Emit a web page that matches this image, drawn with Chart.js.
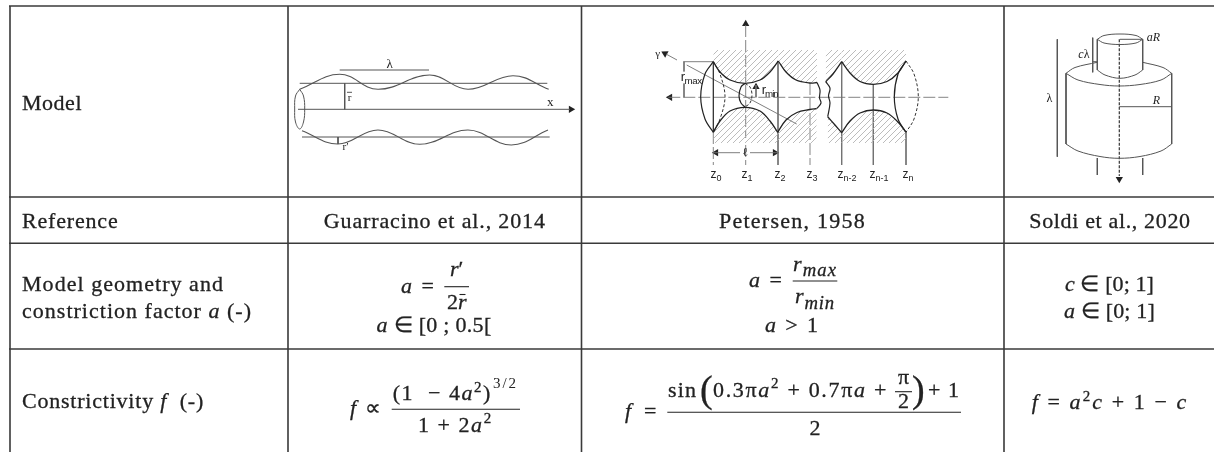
<!DOCTYPE html>
<html>
<head>
<meta charset="utf-8">
<style>
  html, body { margin: 0; background: #fff; }
  canvas { display: block; }
</style>
<script src="https://cdn.jsdelivr.net/npm/chart.js@4/dist/chart.umd.min.js"></script>
</head>
<body>
<canvas id="tabela" width="1214" height="452"></canvas>
<script>
// table text
const rowLabels = ["Model", "Reference", "Model geometry and", "constriction factor *a* (-)", "Constrictivity *f*  (-)"];
const references = ["Guarracino et al., 2014", "Petersen, 1958", "Soldi et al., 2020"];
const geometry1 = ["*a* =", "*r*′", "2*r*", "*a* ∈ [0 ; 0.5["];
const geometry2 = ["*a* =", "*r*_max_", "*r*_min_", "*a* > 1"];
const geometry3 = ["*c* ∈ [0; 1]", "*a* ∈ [0; 1]"];
const constrict1 = ["*f* ∝", "(1  − 4*a*^2^)", "3/2", "1 + 2*a*^2^"];
const constrict2 = ["*f* =", "sin", "(", "0.3π*a*^2^ + 0.7π*a* +", "π", "2", ")", "+ 1", "2"];
const constrict3 = ["*f* = *a*^2^*c* + 1 − *c*"];
const panel1Labels = ["λ", "r", "r′", "x"];
const panel2Labels = ["γ", "r~max~", "r~min~", "ℓ", "z~0~", "z~1~", "z~2~", "z~3~", "z~n-2~", "z~n-1~", "z~n~"];
const panel3Labels = ["*aR*", "*c*λ", "λ", "*R*"];

// table rules
const gridRows = [6, 197, 243.3, 349];
const gridCols = [10, 288, 581.5, 1004];

// panel 1, wavy tube
const waveTop = [[299.7, 89.3], [339.7, 74.3], [378, 89.3], [429.7, 75], [468, 89.3], [513, 75.7], [548.7, 89.3]];
const waveBottom = [[302, 130.7], [338, 144], [378, 130], [419.7, 144.3], [468, 130], [511.3, 145], [548, 130]];
const tubeEnd = [[299.7, 89.3], [295.5, 96], [294.7, 109], [295.5, 122], [299.7, 129], [303.5, 122], [304.7, 109], [303.5, 96], [299.7, 89.3]];
const panel1Lines = [
  [[299.7, 83.3], [547.3, 83.3]], [[302, 137], [549.7, 137]], [[298, 109.3], [570, 109.3]],
  [[339.7, 70], [429, 70]], [[344.7, 83.3], [344.7, 109.3]], [[338, 137], [338, 144]], [[347, 92.3], [352, 92.3]]
];

// panel 2, cusped pores
const arcsTop = [
  [[713.3, 61.7], [720, 72], [730, 80], [745, 83.3], [760, 80], [770, 72], [778.3, 61]],
  [[778.3, 61], [786, 72], [796, 80], [810, 83], [817, 82.5]],
  [[825.7, 81.7], [833, 74], [841.7, 61.7]],
  [[841.7, 61.7], [850, 73], [860, 81.5], [873.3, 84.3], [887, 81.5], [898, 73], [906, 61]]
];
const arcsBottom = [
  [[713.3, 132.3], [720, 121], [730, 111], [745, 107.3], [760, 111], [770, 121], [777.7, 132.3]],
  [[777.7, 132.3], [786, 120], [797, 112.5], [810, 109.5], [816.7, 108.5]],
  [[827.7, 116.7], [835, 125], [841.7, 132.7]],
  [[841.7, 132.7], [850, 121], [860, 113], [873.3, 110], [887, 113], [898, 122], [906, 132.3]]
];
const lensSolid = [
  [[713.3, 61.7], [705, 74], [700.7, 96.7], [705, 119], [713.3, 132.3]],
  [[906, 61], [898, 74], [894.3, 96.7], [898, 119], [906, 132.3]],
  [[745, 83.5], [741, 87], [739, 96], [741, 103], [745, 107]],
  [[817, 82.5], [820, 90], [819.5, 98], [821, 103], [817, 108.5]],
  [[825.7, 81.7], [830, 88], [828.5, 96], [830, 103], [827.7, 116.7]],
  [[713.3, 61.7], [713.3, 132.3]]
];
const lensDashed = [
  [[713.3, 61.7], [720, 74], [725, 96.7], [720, 119], [713.3, 132.3]],
  [[906, 61], [914, 74], [918.3, 96.7], [914, 119], [906, 132.3]],
  [[745, 83.5], [750, 87], [752, 95], [750, 103], [745, 107]]
];
const panel2Lines = [
  [[686.7, 65], [796.7, 124]], [[666, 54], [677, 60]],
  [[683.3, 61.7], [713.3, 61.7]], [[684, 61.7], [684, 71.5]], [[684, 83.5], [684, 97.3]], [[756, 85], [756, 97.3]],
  [[713.3, 152.7], [740, 152.7]], [[750, 152.7], [778, 152.7]],
  [[778, 61], [778, 165]], [[841.7, 61.7], [841.7, 165]], [[873.3, 84.3], [873.3, 165]], [[906, 132], [906, 165]]
];
const panel2Dashed = [
  [[668.3, 97.3], [948.3, 97.3]], [[745.7, 25], [745.7, 138]], [[745.7, 145], [745.7, 165]],
  [[713.3, 132], [713.3, 165]], [[810, 83], [810, 165]]
];

// panel 3, stepped cylinder
const cylinderCurves = [
  [[1097.3, 39.3], [1104, 35.5], [1120, 34], [1136, 35.5], [1142.7, 39.3]],
  [[1097.3, 39.3], [1104, 43], [1120, 44.5], [1136, 43], [1142.7, 39.3]],
  [[1097.3, 70], [1105, 75], [1120, 78.3], [1135, 75], [1142.7, 70]],
  [[1066, 73.3], [1075, 67.5], [1097.3, 62.3]],
  [[1142.7, 62.3], [1163, 67.5], [1171.7, 73.3]],
  [[1066, 73.3], [1078, 80], [1100, 84.5], [1119, 86], [1140, 84.5], [1161, 80], [1171.7, 73.3]],
  [[1066, 144], [1078, 151], [1100, 156.5], [1119, 158.3], [1140, 156.5], [1161, 151], [1171.7, 144]]
];
const panel3Lines = [
  [[1097.3, 39.3], [1097.3, 70]], [[1142.7, 39.3], [1142.7, 70]],
  [[1066, 73.3], [1066, 144]], [[1171.7, 73.3], [1171.7, 144]],
  [[1097.3, 158], [1097.3, 175]], [[1142.7, 158], [1142.7, 175]],
  [[1057.3, 39.3], [1057.3, 156.7]], [[1092.7, 37.7], [1092.7, 72.3]], [[1092.7, 61.7], [1097.3, 61.7]],
  [[1120, 39.3], [1142.7, 39.3]], [[1119.3, 106.7], [1171.7, 106.7]]
];
const panel3Axis = [[1119.3, 39.3], [1119.3, 176]];

// arrow heads: x, y, rotation
const arrowHeads = [
  [571, 109.3, 90], [670, 97.3, -90], [745.7, 24, 0], [665, 53.5, -62], [756, 87, 0],
  [716, 152.7, -90], [775, 152.7, 90], [1119.3, 179, 180]
];

// fraction bars and overbar in the formulas
const formulaRules = [
  [[444.3, 286.7], [469, 286.7]], [[391.7, 409.3], [520, 409.3]], [[792.7, 281], [837.3, 281]],
  [[667.3, 412.3], [961, 412.3]], [[895, 391.7], [912, 391.7]], [[459.5, 294.5], [465.5, 294.5]]
];

const INK = "#222";
const SERIF = '"Liberation Serif"';
const SANS = '"Liberation Sans"';

function curva(pontos, extra) {
  return Object.assign({
    data: pontos.map(p => ({ x: p[0], y: p[1] })),
    showLine: true,
    pointRadius: 0,
    borderColor: "#4a4a4a",
    borderWidth: 1,
    tension: 0,
    fill: false
  }, extra);
}

function hachura() {
  const c = document.createElement("canvas");
  c.width = 6;
  c.height = 6;
  const g = c.getContext("2d");
  g.strokeStyle = "#b4b4b4";
  g.lineWidth = 0.9;
  g.beginPath();
  g.moveTo(-1, 7); g.lineTo(7, -1);
  g.moveTo(-1, 1); g.lineTo(1, -1);
  g.moveTo(5, 7); g.lineTo(7, 5);
  g.stroke();
  return g.createPattern(c, "repeat");
}

const padrao = hachura();
const datasets = [];

arcsTop.forEach(a => datasets.push(curva(a, { tension: 0.35, borderColor: "#222", borderWidth: 1.3, fill: { target: { value: 50 } }, backgroundColor: padrao })));
arcsBottom.forEach(a => datasets.push(curva(a, { tension: 0.35, borderColor: "#222", borderWidth: 1.3, fill: { target: { value: 143 } }, backgroundColor: padrao })));
lensSolid.forEach(a => datasets.push(curva(a, { tension: 0.35, borderColor: "#222", borderWidth: 1.2 })));
lensDashed.forEach(a => datasets.push(curva(a, { tension: 0.35, borderColor: "#333", borderDash: [3, 2] })));
panel2Lines.forEach(a => datasets.push(curva(a, { borderColor: "#707070", borderWidth: 0.9 })));
panel2Dashed.forEach(a => datasets.push(curva(a, { borderColor: "#777", borderWidth: 0.9, borderDash: [12, 3] })));

datasets.push(curva(waveTop, { tension: 0.4, borderColor: "#555", borderWidth: 1.1 }));
datasets.push(curva(waveBottom, { tension: 0.4, borderColor: "#555", borderWidth: 1.1 }));
datasets.push(curva(tubeEnd, { tension: 0.4, borderColor: "#555", borderWidth: 1 }));
panel1Lines.forEach(a => datasets.push(curva(a, { borderColor: "#555", borderWidth: 1 })));

cylinderCurves.forEach(a => datasets.push(curva(a, { tension: 0.35, borderColor: "#555", borderWidth: 1 })));
panel3Lines.forEach(a => datasets.push(curva(a, { borderColor: "#555", borderWidth: 1 })));
datasets.push(curva(panel3Axis, { borderColor: "#333", borderWidth: 1.2, borderDash: [3, 1.5] }));

formulaRules.forEach(a => datasets.push(curva(a, { borderColor: "#222", borderWidth: 1.1 })));
gridRows.forEach(y => datasets.push(curva([[gridCols[0] - 1, y], [1214, y]], { borderColor: "#3a3a3a", borderWidth: 1.6 })));
gridCols.forEach(x => datasets.push(curva([[x, gridRows[0]], [x, 452]], { borderColor: "#3a3a3a", borderWidth: 1.6 })));

arrowHeads.forEach(a => datasets.push(curva([[a[0], a[1]]], {
  showLine: false,
  pointRadius: 4.2,
  pointStyle: "triangle",
  pointRotation: a[2],
  pointBackgroundColor: "#222",
  pointBorderColor: "#222",
  pointBorderWidth: 0
})));

// text placement: string, x, baseline, align, size, width to fit, family
const B = 22;
const textos = [
  [rowLabels[0], 22, 110, "left", B, 60], [rowLabels[1], 22, 228, "left", B, 96.5], [rowLabels[2], 22, 291, "left", B, 202],
  [rowLabels[3], 22, 318.3, "left", B, 230], [rowLabels[4], 22, 408, "left", B, 182],
  [references[0], 434.8, 228, "center", B, 222], [references[1], 792.5, 228, "center", B, 147], [references[2], 1110, 228, "center", B, 161.4],

  [geometry1[0], 401, 293.3, "left", B, 35], [geometry1[1], 456.7, 276, "center", B], [geometry1[2], 456.7, 309.3, "center", B],
  [geometry1[3], 434, 331.7, "center", B, 115],
  [geometry2[0], 749, 287.3, "left", B, 35], [geometry2[1], 815, 270.7, "center", B, 44], [geometry2[2], 815, 303.3, "center", B, 40],
  [geometry2[3], 792.5, 331.7, "center", B, 55],
  [geometry3[0], 1109.5, 290.7, "center", B, 89], [geometry3[1], 1109.5, 318.3, "center", B, 91],

  [constrict1[0], 350, 415, "left", B, 33], [constrict1[1], 392.7, 400, "left", B, 99], [constrict1[2], 505.5, 388, "center", 15, 25],
  [constrict1[3], 455.3, 431.7, "center", B, 74.7],
  [constrict2[0], 625, 418, "left", B, 35], [constrict2[1], 668, 396.7, "left", B, 29], [constrict2[2], 700, 402, "left", 38],
  [constrict2[3], 713, 396.7, "left", B, 175], [constrict2[4], 903.5, 384, "center", B], [constrict2[5], 903.5, 408.3, "center", B],
  [constrict2[6], 912, 402, "left", 38], [constrict2[7], 928, 396.7, "left", B, 32], [constrict2[8], 815, 435, "center", B],
  [constrict3[0], 1110, 409.3, "center", B, 156.6],

  [panel1Labels[0], 389.7, 67.7, "center", 13], [panel1Labels[1], 349.7, 101, "center", 11], [panel1Labels[2], 345.5, 150, "center", 11],
  [panel1Labels[3], 550.3, 105.7, "center", 13],

  [panel2Labels[0], 657.7, 57, "center", 11], [panel2Labels[1], 680.7, 81, "left", 13, 21, SANS], [panel2Labels[2], 761.7, 94.3, "left", 13, 16, SANS],
  [panel2Labels[3], 745, 156, "center", 12],
  [panel2Labels[4], 716, 178.3, "center", 12, 0, SANS], [panel2Labels[5], 747, 178.3, "center", 12, 0, SANS], [panel2Labels[6], 780, 178.3, "center", 12, 0, SANS],
  [panel2Labels[7], 812, 178.3, "center", 12, 0, SANS], [panel2Labels[8], 847, 178.3, "center", 12, 0, SANS], [panel2Labels[9], 879, 178.3, "center", 12, 0, SANS],
  [panel2Labels[10], 908, 178.3, "center", 12, 0, SANS],

  [panel3Labels[0], 1146.7, 41, "left", 12], [panel3Labels[1], 1078.3, 58.3, "left", 12], [panel3Labels[2], 1049.5, 101.7, "center", 12],
  [panel3Labels[3], 1152.7, 104, "left", 12]
];

function pedacos(s) {
  return s.split(/(\*[^*]+\*|\^[^^]+\^|_[^_]+_|~[^~]+~)/).filter(Boolean).map(p => {
    const m = p[0];
    if (m === "*") return { t: p.slice(1, -1), it: true, esc: 1, dy: 0 };
    if (m === "^") return { t: p.slice(1, -1), it: false, esc: 0.68, dy: -0.38 };
    if (m === "_") return { t: p.slice(1, -1), it: true, esc: 0.85, dy: 0.24 };
    if (m === "~") return { t: p.slice(1, -1), it: false, esc: 0.75, dy: 0.24 };
    return { t: p, it: false, esc: 1, dy: 0 };
  });
}

const pluginTextos = {
  id: "textos",
  afterDatasetsDraw(chart) {
    const ctx = chart.ctx;
    const sx = chart.scales.x;
    const sy = chart.scales.y;
    ctx.save();
    ctx.fillStyle = INK;
    ctx.strokeStyle = INK;
    ctx.textBaseline = "alphabetic";
    ctx.textAlign = "left";
    textos.forEach(([s, x, y, al, tam, ajuste, familia]) => {
      const partes = pedacos(s);
      const fonte = p => `${p.it ? "italic " : ""}${tam * p.esc}px ${familia || SERIF}`;
      const mede = () => partes.reduce((soma, p) => {
        ctx.font = fonte(p);
        return soma + ctx.measureText(p.t).width;
      }, 0);
      // spread the letters so the string takes the width it has in the picture
      ctx.letterSpacing = "0px";
      const chars = partes.reduce((soma, p) => soma + p.t.length, 0);
      const esp = ajuste ? (ajuste - mede()) / chars : 0;
      ctx.letterSpacing = esp + "px";
      let px = sx.getPixelForValue(x) - (al === "center" ? mede() / 2 : 0);
      const py = sy.getPixelForValue(y);
      ctx.lineWidth = 0.3;
      partes.forEach(p => {
        ctx.font = fonte(p);
        ctx.fillText(p.t, px, py + p.dy * tam);
        if (tam >= 20) ctx.strokeText(p.t, px, py + p.dy * tam);
        px += ctx.measureText(p.t).width;
      });
    });
    ctx.restore();
  }
};

new Chart(document.getElementById("tabela"), {
  type: "scatter",
  data: { datasets },
  plugins: [pluginTextos],
  options: {
    responsive: false,
    animation: false,
    layout: { padding: 0, autoPadding: false },
    plugins: { legend: { display: false }, tooltip: { enabled: false }, title: { display: false } },
    scales: {
      x: { type: "linear", min: 0, max: 1214, display: false },
      y: { type: "linear", min: 0, max: 452, reverse: true, display: false }
    }
  }
});
</script>
</body>
</html>
